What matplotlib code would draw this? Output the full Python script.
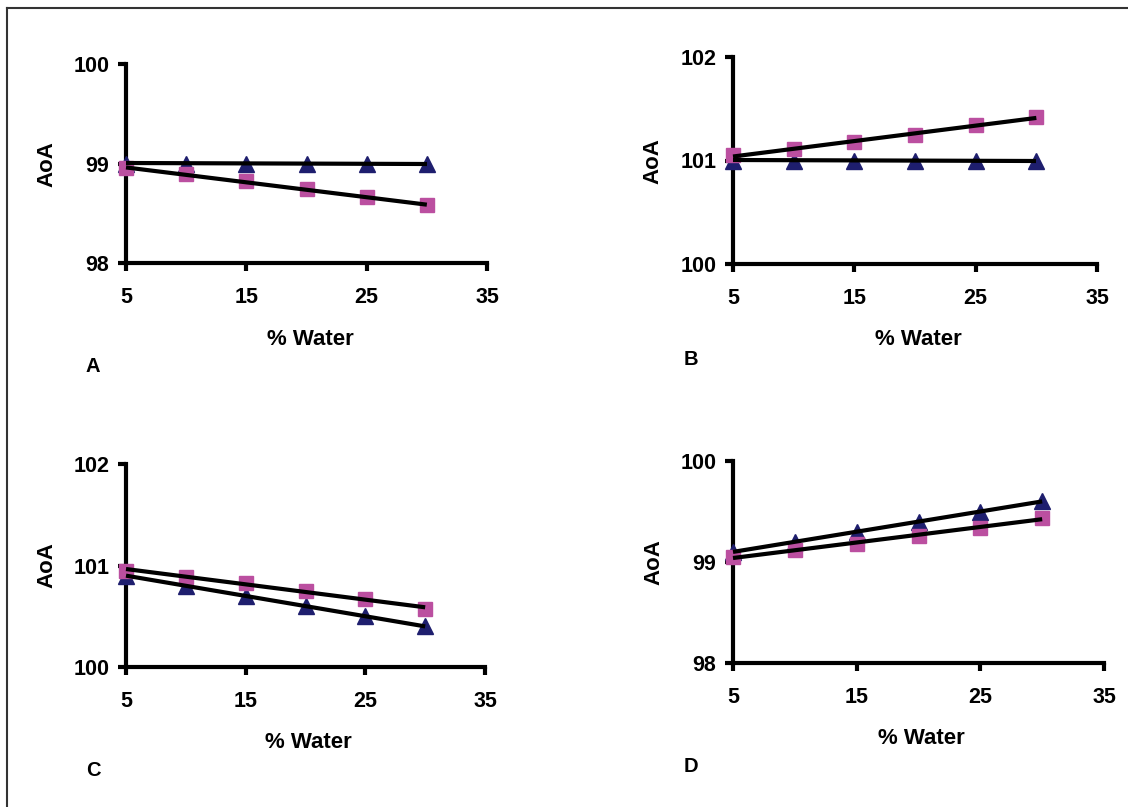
import numpy as np
import matplotlib
matplotlib.use("Agg")
import matplotlib.pyplot as plt
from matplotlib.lines import Line2D

plt.rcParams['font.family'] = ['Liberation Sans', 'DejaVu Sans']
plt.rcParams['font.weight'] = 'bold'

water = [5, 10, 15, 20, 25, 30]

a_tri = [99.0, 99.0, 99.0, 99.0, 99.0, 99.0]
a_sq = [98.95, 98.89, 98.82, 98.74, 98.66, 98.58]
b_tri = [101.0, 101.0, 101.0, 101.0, 101.0, 101.0]
b_sq = [101.05, 101.11, 101.18, 101.25, 101.34, 101.42]
c_tri = [100.9, 100.8, 100.7, 100.6, 100.5, 100.4]
c_sq = [100.95, 100.89, 100.83, 100.75, 100.67, 100.57]
d_tri = [99.1, 99.2, 99.3, 99.4, 99.5, 99.6]
d_sq = [99.05, 99.12, 99.18, 99.26, 99.34, 99.44]

x_ticks = [5, 15, 25, 35]
a_yticks = [98, 99, 100]
b_yticks = [100, 101, 102]
c_yticks = [100, 101, 102]
d_yticks = [98, 99, 100]
panel_letters = ['A', 'B', 'C', 'D']

TRI_COLOR = '#1E1E6E'
SQ_COLOR = '#BB4FA0'

W, H = 1128, 807
fig = plt.figure(figsize=(W / 100, H / 100), dpi=100)


def px_rect(x0, y_top, x1, y_bot):
    return [x0 / W, 1 - y_bot / H, (x1 - x0) / W, (y_bot - y_top) / H]


panels = [
    (px_rect(126, 64, 487, 263), a_tri, a_sq, a_yticks, (310, 340), (47, 164), (93, 366)),
    (px_rect(733, 57, 1097, 264), b_tri, b_sq, b_yticks, (918, 340), (653, 161), (691, 359)),
    (px_rect(126, 464, 485, 667), c_tri, c_sq, c_yticks, (308, 743), (47, 565), (93, 771)),
    (px_rect(733, 461, 1104, 663), d_tri, d_sq, d_yticks, (921, 739), (654, 562), (691, 767)),
]

for (rect, tri, sq, yt, xl, yl, lt), letter in zip(panels, panel_letters):
    ax = fig.add_axes(rect)
    ax.set_xlim(x_ticks[0], x_ticks[-1])
    ax.set_ylim(yt[0], yt[-1])
    ax.set_xticks(x_ticks)
    ax.set_yticks(yt)
    for s in ['top', 'right']:
        ax.spines[s].set_visible(False)
    for s in ['left', 'bottom']:
        ax.spines[s].set_linewidth(3)
        ax.spines[s].set_capstyle('projecting')
    ax.tick_params(axis='both', width=3, length=6, direction='out', labelsize=15.5)
    ax.tick_params(axis='x', pad=11)
    ax.tick_params(axis='y', pad=6)
    for lab in ax.get_xticklabels() + ax.get_yticklabels():
        lab.set_fontweight('bold')

    ax.plot(water, tri, linestyle='none', marker='^', markersize=11.5,
            color=TRI_COLOR, clip_on=False, zorder=3)
    ax.plot(water, sq, linestyle='none', marker='s', markersize=10,
            color=SQ_COLOR, clip_on=False, zorder=3)
    xs = np.array([water[0], water[-1]], dtype=float)
    for series in (tri, sq):
        k, b = np.polyfit(water, series, 1)
        ax.plot(xs, k * xs + b, color='black', lw=3, solid_capstyle='butt',
                clip_on=False, zorder=4)

    fig.text(xl[0] / W, 1 - xl[1] / H, '% Water', ha='center', va='center',
             fontsize=16, fontweight='bold')
    fig.text(yl[0] / W, 1 - yl[1] / H, 'AoA', ha='center', va='center',
             rotation=90, fontsize=16, fontweight='bold')
    fig.text(lt[0] / W, 1 - lt[1] / H, letter, ha='center', va='center',
             fontsize=14.5, fontweight='bold')

# frame lines (top and left)
fig.add_artist(Line2D([7 / W, 1], [1 - 8 / H, 1 - 8 / H], transform=fig.transFigure,
                      color='#333333', lw=1.5))
fig.add_artist(Line2D([7 / W, 7 / W], [0, 1 - 8 / H], transform=fig.transFigure,
                      color='#333333', lw=1.5))

fig.savefig('out.png', dpi=100)
